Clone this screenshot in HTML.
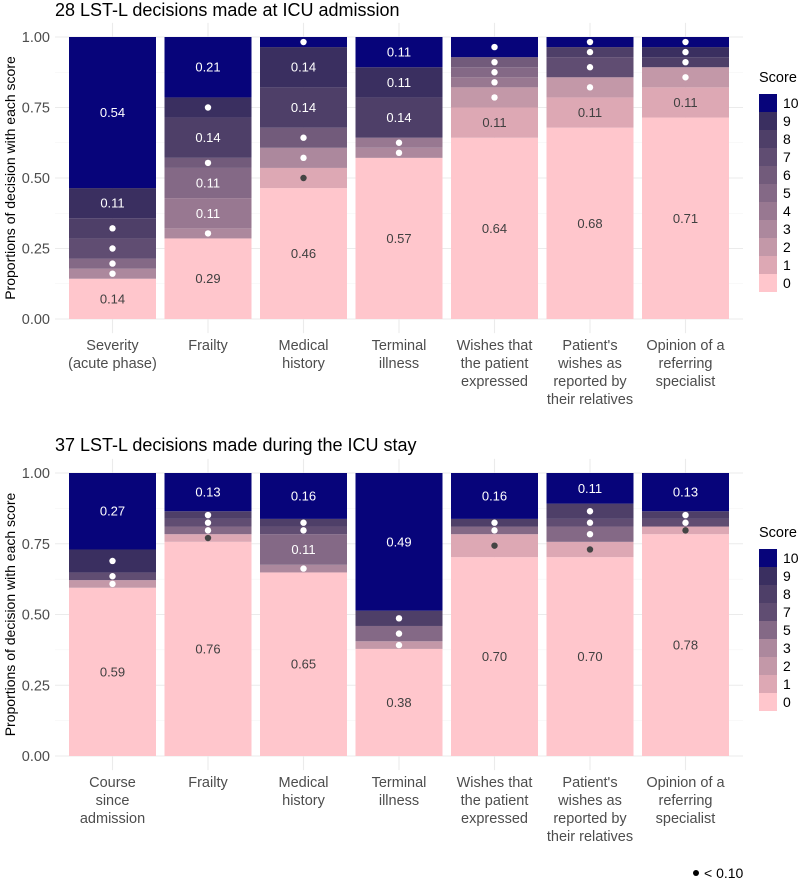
<!DOCTYPE html>
<html><head><meta charset="utf-8"><style>
html,body{margin:0;padding:0;background:#fff;}
svg{display:block;font-family:"Liberation Sans",Arial,sans-serif;}
</style></head><body>
<svg id="chart" width="800" height="879" viewBox="0 0 800 879"></svg>
<script>
// Panel 1 data (counts out of 28)
const cats1 = [["Severity","(acute phase)"],["Frailty"],["Medical","history"],["Terminal","illness"],["Wishes that","the patient","expressed"],["Patient's","wishes as","reported by","their relatives"],["Opinion of a","referring","specialist"]];
const n1 = 28;
const p1s0  = [4, 8, 13, 16, 18, 19, 20];
const p1s1  = [0, 0, 2, 0, 3, 3, 3];
const p1s2  = [0, 0, 0, 0, 2, 2, 2];
const p1s3  = [1, 1, 2, 1, 0, 0, 0];
const p1s4  = [0, 3, 0, 1, 1, 0, 0];
const p1s5  = [1, 3, 0, 0, 1, 0, 0];
const p1s6  = [0, 1, 2, 0, 1, 0, 0];
const p1s7  = [2, 0, 0, 0, 0, 2, 0];
const p1s8  = [2, 4, 4, 4, 0, 1, 1];
const p1s9  = [3, 2, 4, 3, 0, 0, 1];
const p1s10 = [15, 6, 1, 3, 2, 1, 1];
// Panel 2 data (counts out of 37)
const cats2 = [["Course","since","admission"],["Frailty"],["Medical","history"],["Terminal","illness"],["Wishes that","the patient","expressed"],["Patient's","wishes as","reported by","their relatives"],["Opinion of a","referring","specialist"]];
const n2 = 37;
const p2s0  = [22, 28, 24, 14, 26, 26, 29];
const p2s1  = [0, 1, 0, 0, 3, 2, 1];
const p2s2  = [1, 0, 0, 1, 0, 0, 0];
const p2s3  = [0, 0, 1, 0, 0, 0, 0];
const p2s5  = [0, 1, 4, 2, 1, 2, 0];
const p2s7  = [1, 1, 1, 0, 0, 1, 1];
const p2s8  = [0, 1, 1, 2, 1, 2, 1];
const p2s9  = [3, 0, 0, 0, 0, 0, 0];
const p2s10 = [10, 5, 6, 18, 6, 4, 5];
const p2s10Labels = ["0.27","0.13","0.16","0.49","0.16","0.11","0.13"];
const yTicks = ["0.00","0.25","0.50","0.75","1.00"];
const legend1 = [10,9,8,7,6,5,4,3,2,1,0];
const legend2 = [10,9,8,7,5,3,2,1,0];

const colors = {0:"#FFC6CC",1:"#DDA8B4",2:"#C398A8",3:"#AC889D",4:"#987891",5:"#846986",6:"#725B7B",7:"#604D72",8:"#4E3F68",9:"#3A2F60",10:"#07047A"};
const NS = "http://www.w3.org/2000/svg";
const svg = document.getElementById('chart');
function mk(tag, attrs, parent){const e=document.createElementNS(NS,tag);for(const k in attrs)e.setAttribute(k,attrs[k]);(parent||svg).appendChild(e);return e;}

function panel(opts){
  const {title,titleY,yTop,yBot,cats,n,series,scores,legend,legY,key,labels} = opts;
  const g = mk('g',{});
  
  
  const y = v => yBot - (yBot-yTop)*v;
  const x = i => 112.5 + 95.5*i;
  const bw = 87;
  const pl = 55, pr = 743, h = yBot-yTop, pt = yTop - 0.05*h, pb = yBot + 0.05*h;
  for (let k=0;k<4;k++){ const ln=mk('line',{x1:pl,x2:pr,y1:y(0.125+0.25*k),y2:y(0.125+0.25*k),stroke:'#f3f3f3','stroke-width':0.6},g);
      }
  yTicks.forEach((t,k)=>{ const v=k*0.25;
    const ln=mk('line',{x1:pl,x2:pr,y1:y(v),y2:y(v),stroke:'#ebebeb','stroke-width':1.1},g);
     
    const tx=mk('text',{x:50,y:y(v)+5,'text-anchor':'end','font-size':14.5,fill:'#4d4d4d'},g); tx.textContent=t;
     
  });
  cats.forEach((c,i)=>{ const ln=mk('line',{x1:x(i),x2:x(i),y1:pt,y2:pb,stroke:'#ebebeb','stroke-width':1.1},g);
      });
  cats.forEach((c,i)=>{
    let cum = 0;
    scores.forEach((s,si)=>{
      const cnt = series[si][i]; if(!cnt) return;
      const p = cnt/n;
      const y0 = y(cum), y1 = y(cum+p);
      const r = mk('rect',{x:x(i)-bw/2,y:y1,width:bw,height:y0-y1,fill:colors[s]},g);
       
      const cy = (y0+y1)/2;
      if (p >= 0.1){
        const t = mk('text',{x:x(i),y:cy+4.5,'text-anchor':'middle','font-size':13,fill:s>=4?'#ffffff':'#404040'},g);
        t.textContent = (labels && labels[s]) ? labels[s][i] : p.toFixed(2);
         
      } else {
        const d = mk('circle',{cx:x(i),cy:cy,r:3.2,fill:s<=1?'#444444':'#ffffff'},g);
         
      }
      cum += p;
    });
    c.forEach((line,li)=>{
      const t = mk('text',{x:x(i),y:yBot+31+18*li,'text-anchor':'middle','font-size':14.5,fill:'#4d4d4d'},g);
      t.textContent = line;
       
    });
  });
  const tt = mk('text',{x:55,y:titleY,'font-size':18,fill:'#000'},g); tt.textContent = title;
   
  const yt = mk('text',{x:0,y:0,'font-size':14,fill:'#000','text-anchor':'middle',transform:`translate(15,${(yTop+yBot)/2}) rotate(-90)`},g);
  yt.textContent = 'Proportions of decision with each score';
   
  const lt = mk('text',{x:759,y:legY,'font-size':14.5,fill:'#000'},g); lt.textContent='Score';
   
  legend.forEach((s,k)=>{
    const ky = legY+12+18*k;
    const r = mk('rect',{x:759,y:ky,width:18,height:18,fill:colors[s]},g);
     
    const t = mk('text',{x:783,y:ky+14,'font-size':14,fill:'#000'},g); t.textContent = s;
     
  });
}
panel({title:"28 LST-L decisions made at ICU admission",titleY:16,yTop:37,yBot:319,cats:cats1,n:n1,
  series:[p1s0,p1s1,p1s2,p1s3,p1s4,p1s5,p1s6,p1s7,p1s8,p1s9,p1s10],scores:[0,1,2,3,4,5,6,7,8,9,10],legend:legend1,legY:82,key:'admission'});
panel({title:"37 LST-L decisions made during the ICU stay",titleY:451,yTop:473,yBot:756,cats:cats2,n:n2,
  series:[p2s0,p2s1,p2s2,p2s3,p2s5,p2s7,p2s8,p2s9,p2s10],scores:[0,1,2,3,5,7,8,9,10],legend:legend2,legY:537,key:'stay',
  labels:{10:p2s10Labels}});
const ld = mk('circle',{cx:696,cy:873,r:3,fill:'#000'});
 
const lt2 = mk('text',{x:704,y:878,'font-size':14,fill:'#000'}); lt2.textContent='< 0.10';
 
</script>
</body></html>
